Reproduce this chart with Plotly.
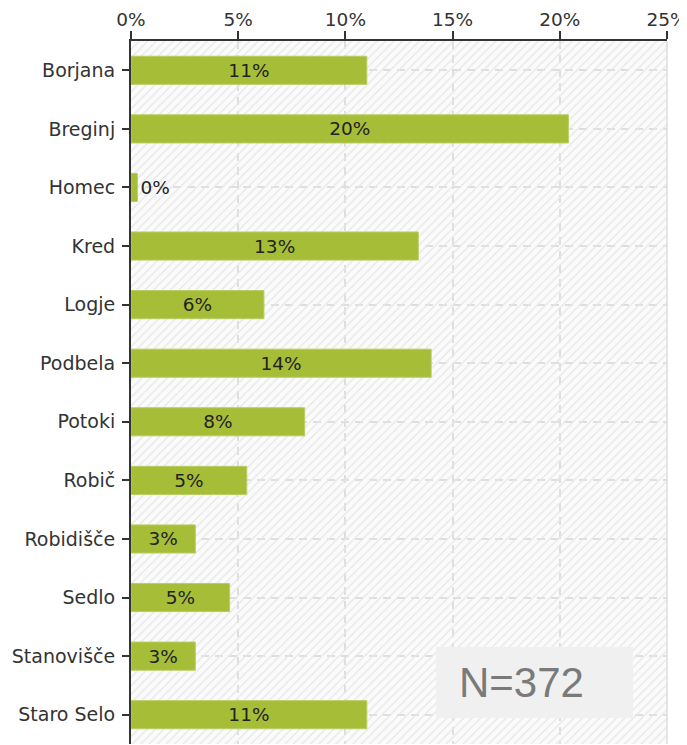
import plotly.graph_objects as go

categories = ["Borjana", "Breginj", "Homec", "Kred", "Logje", "Podbela", "Potoki",
              "Robič", "Robidišče", "Sedlo", "Stanovišče", "Staro Selo"]
values = [11.0, 20.4, 0.3, 13.4, 6.2, 14.0, 8.1, 5.4, 3.0, 4.6, 3.0, 11.0]
x_ticks = [0, 5, 10, 15, 20, 25]
x_tick_labels = ["0%", "5%", "10%", "15%", "20%", "25%"]
n_label = "N=372"

x_max = x_ticks[-1]
FONT = "DejaVu Sans"

fig = go.Figure()

# hatched background band (decorative)
fig.add_trace(go.Bar(
    y=categories, x=[x_max] * len(categories), orientation="h", width=1,
    marker=dict(color="rgba(0,0,0,0)", line=dict(width=0),
                pattern=dict(shape="/", fgcolor="#e6e6e6", bgcolor="rgba(0,0,0,0)",
                             size=6, solidity=0.22, fillmode="replace")),
    hoverinfo="skip", showlegend=False,
))

positions = ["outside" if v < 1 else "inside" for v in values]
fig.add_trace(go.Bar(
    y=categories, x=values, orientation="h", width=0.48,
    marker=dict(color="#a6bd38", line=dict(color="#bacd62", width=1)),
    texttemplate="%{x:.0f}%", textposition=positions, insidetextanchor="middle",
    textfont=dict(family=FONT, size=18.5, color="#222222"),
    cliponaxis=False, showlegend=False,
))

# page body has an 8px margin, so the figure is sized to fill the rest of the window
fig.update_layout(
    width=679, height=737,
    margin=dict(l=123, r=20, t=33, b=1),
    paper_bgcolor="white", plot_bgcolor="#fbfbfb",
    barmode="overlay",
    font=dict(family=FONT, size=18, color="#333333"),
    xaxis=dict(side="top", range=[0, x_max], tickvals=x_ticks, ticktext=x_tick_labels,
               automargin=False, ticklabeloverflow="allow",
               showline=True, linecolor="#333333", linewidth=2,
               ticks="outside", ticklen=8, tickwidth=1.5, tickcolor="#333333",
               ticklabelstandoff=-2,
               showgrid=True, gridcolor="#dedede", gridwidth=1.5, griddash="8px,6px",
               zeroline=False, tickfont=dict(family=FONT, size=18.5, color="#333333")),
    yaxis=dict(autorange="reversed", automargin=False,
               showline=True, linecolor="#333333", linewidth=2,
               ticks="outside", ticklen=7, tickwidth=1.5, tickcolor="#333333",
               ticklabelstandoff=3,
               showgrid=True, gridcolor="#dedede", gridwidth=1.5, griddash="8px,6px",
               tickfont=dict(family=FONT, size=19, color="#333333")),
)

# right border of plot area
fig.add_shape(type="line", xref="paper", yref="paper", x0=1, x1=1, y0=0, y1=1,
              line=dict(color="#dddddd", width=1.5), layer="above")

# N box
fig.add_shape(type="rect", xref="paper", yref="paper", x0=0.569, x1=0.9366,
              y0=0.037, y1=0.138, fillcolor="#f0f0f0", line=dict(width=0), layer="above")
fig.add_annotation(xref="paper", yref="paper", x=0.608, y=0.0868, xanchor="left",
                   yanchor="middle", text=n_label, showarrow=False,
                   font=dict(family="Liberation Sans", size=42, color="#7a7a7a"))

fig.write_html("out.html")
